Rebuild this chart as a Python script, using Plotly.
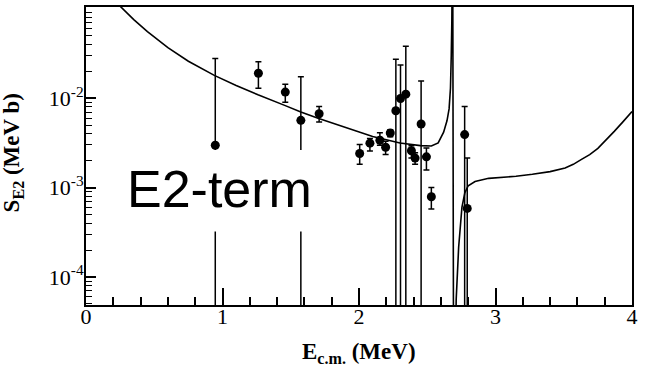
import plotly.graph_objects as go

# ---- data ----
E_data = [0.947, 1.263, 1.460, 1.574, 1.708, 2.005, 2.080, 2.153, 2.195, 2.229,
          2.270, 2.304, 2.343, 2.384, 2.411, 2.455, 2.494, 2.530, 2.774, 2.793]
S_data = [2.98e-3, 1.90e-2, 1.17e-2, 5.65e-3, 6.7e-3, 2.41e-3, 3.14e-3, 3.39e-3, 2.83e-3, 4.08e-3,
          7.24e-3, 9.93e-3, 1.11e-2, 2.58e-3, 2.14e-3, 5.14e-3, 2.21e-3, 7.9e-4, 3.92e-3, 5.85e-4]
# upper and lower ends of error bars (0 = bar extends down to the axis)
S_upper = [2.78e-2, 2.56e-2, 1.43e-2, 1.74e-2, 8.1e-3, 3.03e-3, 3.55e-3, 4.1e-3, 3.3e-3, 4.45e-3,
           2.73e-2, 2.35e-2, 3.82e-2, 2.93e-3, 2.45e-3, 1.56e-2, 2.78e-3, 1.0e-3, 8.1e-3, 2.15e-3]
S_lower = [0, 1.29e-2, 9.0e-3, 0, 5.4e-3, 1.82e-3, 2.57e-3, 2.98e-3, 2.35e-3, 3.7e-3,
           0, 0, 0, 2.15e-3, 1.82e-3, 0, 1.57e-3, 5.75e-4, 0, 0]

# theoretical E2 curve
E_curve = [0.20, 0.25, 0.35, 0.45, 0.60, 0.75, 0.94, 1.10, 1.26, 1.46, 1.574, 1.70,
           1.90, 2.10, 2.30, 2.45, 2.53, 2.58, 2.62, 2.645, 2.66,
           2.67, 2.676, 2.680, 2.686,
           2.694, 2.712, 2.730, 2.754, 2.775, 2.800, 2.850, 2.950, 3.050, 3.150, 3.270,
           3.400, 3.510, 3.570, 3.630, 3.690, 3.750, 3.810, 3.870, 3.930, 4.000]
S_curve = [0.127, 0.1059, 0.0757, 0.0556, 0.0367, 0.0259, 0.0180, 0.01387, 0.01091,
           0.00826, 0.00700, 0.00596, 0.00468, 0.00372, 0.00316, 0.00295, 0.00292,
           0.00316, 0.00417, 0.00562, 0.00759, 0.0129, 0.0302, 0.0708, 1.0,
           1e-6, 5.6e-5, 2.15e-4, 6.0e-4, 8.7e-4, 1.05e-3, 1.17e-3, 1.27e-3, 1.30e-3,
           1.34e-3, 1.41e-3, 1.51e-3, 1.66e-3, 1.82e-3, 2.07e-3, 2.34e-3, 2.75e-3,
           3.39e-3, 4.26e-3, 5.37e-3, 7.1e-3]

x_ticks = [0, 1, 2, 3, 4]
x_ticktext = ["0", "1", "2", "3", "4"]
y_ticks = [1e-4, 1e-3, 1e-2]
y_ticktext = ["10<sup>-4</sup>", "10<sup>-3</sup>", "10<sup>-2</sup>"]

err_plus = [u - s for u, s in zip(S_upper, S_data)]
err_minus = [s - (l if l > 0 else 1e-8) for s, l in zip(S_data, S_lower)]

fig = go.Figure()
fig.add_trace(go.Scatter(x=E_curve, y=S_curve, mode="lines",
                         line=dict(color="black", width=1.6), showlegend=False))
fig.add_trace(go.Scatter(x=E_data, y=S_data, mode="markers",
                         marker=dict(color="black", size=9),
                         error_y=dict(type="data", symmetric=False, array=err_plus,
                                      arrayminus=err_minus, color="black",
                                      thickness=1.5, width=3),
                         showlegend=False))

serif = "Liberation Serif, Times New Roman, serif"
minor_y = [m * 10 ** e for e in range(-5, 0) for m in range(2, 10)]

fig.update_layout(
    width=651, height=367,
    margin=dict(l=86, r=19, t=5, b=62),
    paper_bgcolor="white", plot_bgcolor="white",
    font=dict(family=serif, color="black"),
    xaxis=dict(range=[0, 4], tickmode="array", tickvals=x_ticks, ticktext=x_ticktext,
               ticks="inside", ticklen=17, tickwidth=1.5, tickcolor="black",
               ticklabelstandoff=-9,
               showline=True, linecolor="black", linewidth=2, mirror=True,
               showgrid=False, zeroline=False,
               tickfont=dict(family=serif, size=22, color="black"),
               minor=dict(ticks="inside", ticklen=8, tickwidth=1.5, tickcolor="black",
                          dtick=0.2, tick0=0, showgrid=False)),
    yaxis=dict(type="log", range=[-4.313, -0.98], tickmode="array",
               tickvals=y_ticks, ticktext=y_ticktext,
               ticks="inside", ticklen=10, tickwidth=1.5, tickcolor="black",
               ticklabelstandoff=-4,
               showline=True, linecolor="black", linewidth=2, mirror=True,
               showgrid=False, zeroline=False,
               tickfont=dict(family=serif, size=22, color="black"),
               minor=dict(tickmode="array", tickvals=minor_y, ticks="inside", ticklen=6,
                          tickwidth=1.2, tickcolor="black", showgrid=False)),
    shapes=[dict(type="rect", xref="paper", yref="paper", x0=0.062, x1=0.456,
                 y0=0.247, y1=0.52, fillcolor="white", line=dict(width=0),
                 layer="above")],
    annotations=[
        dict(text="E2-term", xref="paper", yref="paper", x=0.245, y=0.39,
             xanchor="center", yanchor="middle", showarrow=False,
             font=dict(family="Liberation Sans, Arial, sans-serif", size=52, color="black")),
        dict(text="<b>S<sub>E2</sub> (MeV b)</b>", xref="paper", yref="paper",
             x=-0.133, y=0.51, textangle=-90, xanchor="center", yanchor="middle",
             showarrow=False, font=dict(family=serif, size=23, color="black")),
        dict(text="<b>E<sub>c.m.</sub> (MeV)</b>", xref="paper", yref="paper",
             x=0.5, y=-0.16, xanchor="center", yanchor="middle",
             showarrow=False, font=dict(family=serif, size=23, color="black")),
    ],
)

fig.write_html("out.html")
